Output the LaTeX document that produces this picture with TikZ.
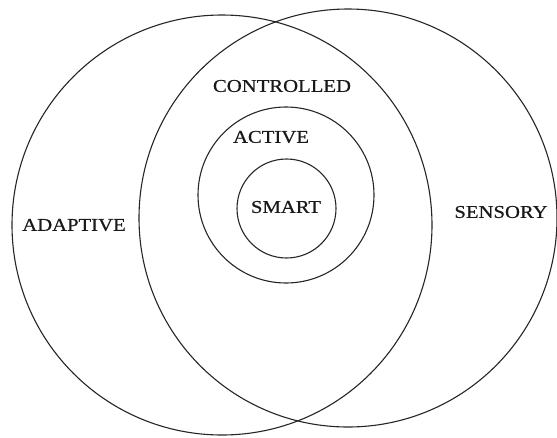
\documentclass[tikz,border=0pt]{standalone}
\usepackage{fontspec}
\setmainfont{Liberation Serif}[FakeStretch=1.15,FakeBold=0.6]
\begin{document}
\begin{tikzpicture}[x=1pt,y=-1pt,
  ring/.style={draw=black!85,line width=1.1pt},
  lbl/.style={font=\fontsize{18}{20}\selectfont,text=black!90,inner sep=0pt}]
\useasboundingbox (0,0) rectangle (557,437);
\draw[ring] (222,225) circle[radius=210];
\draw[ring] (348,218) circle[radius=209];
\draw[ring] (286,195) circle[radius=88];
\draw[ring] (286.5,208.5) circle[radius=49.5];
\node[lbl] (controlled) at (282,86) {CONTROLLED};
\node[lbl] (active) at (271,137) {ACTIVE};
\node[lbl] (smart) at (286,207) {SMART};
\node[lbl] (adaptive) at (74,225) {ADAPTIVE};
\node[lbl] (sensory) at (501,212) {SENSORY};
\end{tikzpicture}
\end{document}
